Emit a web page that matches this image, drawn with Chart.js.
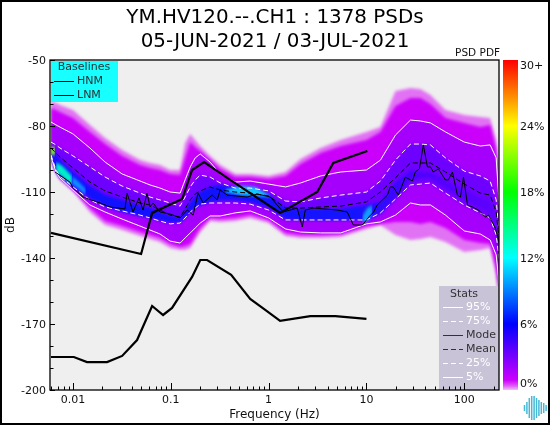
<!DOCTYPE html>
<html lang="en">
<head>
<meta charset="UTF-8">
<title>YM.HV120 PSD PDF</title>
<script src="https://cdn.jsdelivr.net/npm/chart.js"></script>
<style>
    body { margin: 0; background: #fff; }
    #wrap { position: relative; width: 550px; height: 425px; overflow: hidden; }
    #main { position: absolute; left: 0; top: 0; }
    #bar { position: absolute; left: 500px; top: 0; }
    #frame { position: absolute; left: 0; top: 0; width: 546px; height: 421px; border: 2px solid #000; }
</style>
</head>
<body>
<div id="wrap">
    <canvas id="main" width="550" height="425"></canvas>
    <canvas id="bar" width="50" height="425"></canvas>
    <div id="frame"></div>
</div>
<script>
// values
const titleLines = ['YM.HV120.--.CH1 : 1378 PSDs', '05-JUN-2021 / 03-JUL-2021'];

const xTickValues = [0.006, 0.007, 0.008, 0.009, 0.01, 0.02, 0.03, 0.04, 0.05, 0.06, 0.07, 0.08, 0.09, 0.1, 0.2, 0.3, 0.4, 0.5, 0.6, 0.7, 0.8, 0.9, 1, 2, 3, 4, 5, 6, 7, 8, 9, 10, 20, 30, 40, 50, 60, 70, 80, 90, 100, 200];
const xLabelValues = [0.01, 0.1, 1, 10, 100];
const xLabels = ['0.01', '0.1', '1', '10', '100'];
const yTickValues = [-50, -60, -70, -80, -90, -100, -110, -120, -130, -140, -150, -160, -170, -180, -190, -200];
const yLabelValues = [-50, -80, -110, -140, -170, -200];

const freq = [0.00596, 0.0067, 0.00736, 0.01, 0.0149, 0.0213, 0.0318, 0.0485, 0.0614, 0.0776, 0.0984, 0.1245, 0.14, 0.158, 0.1775, 0.2, 0.252, 0.32, 0.455, 0.648, 1, 1.49, 2.12, 3.4, 5.46, 10, 13.9, 19.8, 28.2, 35.6, 45.1, 64.3, 100, 146, 184, 212, 228];

const envTop = [-68.6, -69.5, -70.5, -72.7, -79.5, -85.5, -90.9, -95.5, -96.8, -97.7, -100, -100, -87.7, -83.6, -86.4, -89.1, -93.6, -97.7, -101.8, -101.8, -102.7, -100.9, -95, -90, -86.4, -82.7, -80.5, -64.1, -62.7, -63.2, -65.9, -72.7, -75, -75.9, -76.4, -86.4, -104.5];
const solidTop = [-71.8, -72.7, -73.6, -76.4, -82.7, -88.2, -93.6, -97.7, -99.1, -100, -101.8, -102.3, -94.5, -87.3, -89.5, -91.4, -95.5, -99.5, -103.2, -103.2, -104.1, -102.7, -97.3, -92.3, -89.1, -86.4, -82.7, -70.9, -67.3, -67.3, -70, -76.4, -78.6, -80.5, -79.5, -90, -109.1];
const p95 = [-78.2, -79.5, -80.5, -83.6, -90, -96.4, -101.8, -105, -106.8, -108.2, -110, -110.5, -104.5, -98.6, -94.5, -92.7, -96.4, -101.8, -105.5, -105, -106.4, -107.7, -105.9, -102.7, -100.9, -100, -95.5, -84.1, -77.3, -77.7, -78.6, -82.7, -87.3, -89.1, -88.6, -94.5, -115.9];
const p75 = [-87.3, -88.6, -90, -93.6, -98.6, -103.2, -107.3, -110.5, -112.3, -113.6, -115, -116.4, -112.3, -107.7, -104.5, -102.3, -103.2, -105.9, -108.2, -108.2, -109.5, -114.1, -114.5, -112.7, -111.4, -110, -105, -95.5, -88.2, -88.2, -88.6, -94.5, -100.5, -102.7, -105, -113.6, -129.5];
const meanDb = [-90, -92.3, -94.1, -99.1, -105.5, -109.5, -112.3, -115, -115.9, -118.2, -120.5, -121.4, -117.7, -113.6, -110.9, -109.5, -107.7, -109.1, -110, -110.5, -111.8, -117.3, -117.3, -116.8, -116.4, -114.5, -110, -103.6, -96.8, -96.8, -96.8, -100.9, -106.4, -110.5, -111.4, -119.1, -131.8];
const coreTop = [-89.1, -93.2, -95.5, -100.9, -107.3, -111.4, -113.6, -116.4, -117.3, -119.1, -120.9, -121.8, -118.6, -115, -112.3, -110, -107.7, -106.8, -107.7, -109.1, -111.4, -117.3, -117.7, -117.7, -117.7, -115.9, -114.5, -105.5, -100, -100.9, -100.9, -104.5, -109.1, -112.7, -113.6, -122.7, -136.4];
const coreBot = [-93.2, -100, -102.3, -107.3, -112.7, -116.4, -119.1, -120.9, -121.8, -122.7, -123.6, -123.6, -121.4, -119.1, -117.3, -115.9, -114.5, -113.6, -113.6, -114.5, -116.8, -122.3, -122.7, -122.7, -122.7, -122.7, -120, -112.7, -104.5, -103.6, -103.6, -108.2, -113.6, -117.3, -119.1, -128.2, -140];
const p25 = [-93.2, -100, -102.7, -107.7, -113.6, -116.8, -118.6, -120.5, -121.8, -123.2, -124.5, -124.1, -121.8, -119.1, -117.3, -115.5, -115, -115, -115, -115.5, -118.2, -122.7, -122.7, -122.7, -122.7, -122.7, -119.5, -113.2, -106.8, -106.4, -105.9, -110.5, -115.9, -119.5, -121.8, -129.5, -140.9];
const p5 = [-94.1, -100.9, -103.6, -109.1, -115.9, -119.1, -122.3, -125.5, -127.3, -129.1, -132.3, -133.2, -130.9, -128.6, -126.4, -124.1, -120.9, -120.9, -119.5, -118.6, -121.8, -126.8, -128.2, -128.6, -128.6, -124.5, -123.6, -120.5, -115, -115.9, -115.9, -120.5, -127.7, -129.1, -131.8, -138.6, -152.3];
const solidBot = [-93.6, -100, -103.2, -108.2, -117.3, -123.2, -125.5, -128.2, -129.5, -130.9, -133.6, -135, -134.5, -133.6, -130, -126.4, -121.8, -122.3, -121.8, -120.5, -122.7, -128.6, -129.5, -129.5, -129.1, -125.5, -124.5, -123.6, -123.6, -124.5, -123.6, -126.4, -131.8, -133.2, -133.6, -144.5, -156.8];
const envBot = [-94.5, -100.9, -104.5, -109.5, -119.1, -125, -127.3, -130, -131.4, -132.7, -135.5, -136.4, -136.4, -135.5, -131.8, -128.2, -123.2, -123.6, -123.2, -121.8, -124.1, -130, -130.9, -130.9, -130.5, -126.8, -125, -129.5, -131.8, -131.4, -130.5, -132.7, -137.3, -136.4, -135.5, -147.7, -158.2];

// hot spots of the density
const hotAFreq = [0.00596, 0.00655];
const hotATop = [-89.5, -89.5];
const hotABot = [-93.2, -93.2];
const hotBFreq = [0.0067, 0.0078, 0.0098];
const hotBTop = [-96.4, -98.2, -102.7];
const hotBBot = [-100.9, -103.2, -107.3];
const hotB2Freq = [0.0098, 0.0115, 0.0135];
const hotB2Top = [-102.7, -105.5, -108.6];
const hotB2Bot = [-106.4, -108.6, -111.4];
const hotCFreq = [0.36, 0.512, 0.73, 1.04];
const hotCTop = [-109.1, -107.3, -107.7, -111.8];
const hotCBot = [-110, -111.4, -111.8, -112.3];
const hotDFreq = [9.08, 10.2, 11.5];
const hotDTop = [-120.9, -117.3, -115.9];
const hotDBot = [-123.6, -123.6, -120];

const modeFreq = [0.00655, 0.00931, 0.01, 0.01265, 0.0189, 0.0239, 0.034, 0.0357, 0.0411, 0.0473, 0.052, 0.0571, 0.0614, 0.0659, 0.0776, 0.0984, 0.1245, 0.147, 0.169, 0.19, 0.214, 0.265, 0.298, 0.32, 0.377, 0.604, 0.764, 1.04, 1.41, 1.96, 2.21, 2.37, 2.86, 5.04, 6.37, 7.35, 9.08, 11, 11.7, 12.9, 16.4, 17.5, 18.8, 21.2, 25, 29.5, 31.6, 34.8, 38.2, 42, 45.1, 48.3, 54.4, 64.1, 68.9, 75.7, 85.1, 91.4, 98.2, 108, 121, 140, 165, 177, 208, 228];
const modeDb = [-100.9, -105.5, -108.2, -112.3, -115, -116.8, -117.7, -110.5, -119.1, -112.7, -118.2, -110.5, -116.8, -115, -119.1, -120, -121.8, -118.2, -120.5, -110.5, -115, -111.4, -113.6, -109.1, -111.4, -112.3, -110.9, -112.3, -119.1, -117.3, -125.9, -118.2, -117.3, -118.2, -119.1, -125, -125, -120.5, -119.5, -115.9, -111.4, -107.7, -107.7, -111.4, -103.2, -105, -100.9, -99.5, -88.6, -98.6, -98.6, -100.9, -99.5, -104.5, -104.5, -100.9, -111.4, -112.3, -103.2, -115.9, -116.8, -118.2, -121.4, -120.5, -126.4, -133.2];

const hnmFreq = [0.00596, 0.0497, 0.0644, 0.1306, 0.165, 0.219, 0.377, 1.31, 3.14, 4.58, 10.2];
const hnmDb = [-128.6, -138.2, -119.5, -113.2, -100, -96.4, -103.6, -119.5, -110, -96.8, -91.4];
const lnmFreq = [0.00596, 0.0102, 0.0139, 0.0223, 0.0318, 0.0452, 0.0644, 0.0834, 0.103, 0.165, 0.2, 0.235, 0.414, 0.648, 0.923, 1.31, 2.67, 4.81, 10];
const lnmDb = [-185, -185, -187.3, -187.3, -184.5, -177.3, -161.8, -165.9, -162.7, -148.6, -140.9, -140.9, -147.7, -158.6, -163.6, -168.6, -166.4, -166.4, -167.7];

const barTickValues = [0.64, 6, 12, 18, 24, 29.55];
const barTickLabels = ['0%', '6%', '12%', '18%', '24%', '30+'];

const statsRows = [
    ['95%', '#fff', []],
    ['75%', '#fff', [5, 3]],
    ['Mode', '#333', []],
    ['Mean', '#333', [5, 3]],
    ['25%', '#fff', [5, 3]],
    ['5%', '#fff', []]
];
const logoHeights = [3, 6, 10, 12, 12, 10, 8, 6, 5, 3];

const FONT = '"DejaVu Sans", sans-serif';

function pts(xs, ys) {
    return xs.map((x, i) => ({ x: x, y: ys[i] }));
}

const datasets = [];
let drawOrder = 1000;

// a filled band between two curves, outer bands go first
function band(xs, top, bot, color) {
    const i = datasets.length;
    datasets.push({ isBand: true, data: pts(xs, top), fill: { target: i + 1 }, backgroundColor: color, showLine: false, pointRadius: 0, order: drawOrder-- });
    datasets.push({ isBand: true, data: pts(xs, bot), fill: false, showLine: false, pointRadius: 0, order: drawOrder-- });
}

function line(xs, ys, color, width, dash) {
    datasets.push({ data: pts(xs, ys), borderColor: color, borderWidth: width, borderDash: dash, pointRadius: 0, fill: false, tension: 0, order: drawOrder-- });
}

const coreGrad = document.getElementById('main').getContext('2d').createLinearGradient(50, 0, 499, 0);
coreGrad.addColorStop(0, '#1010ff');
coreGrad.addColorStop(0.68, '#1414ff');
coreGrad.addColorStop(0.8, '#4a00ff');
coreGrad.addColorStop(1, '#6000ff');

band(freq, envTop, envBot, '#e272f4');
band(freq, solidTop, solidBot, '#cb00fb');
band(freq, p95, p5, '#a400fb');
band(freq, p75, p25, '#6e00ff');
band(freq, coreTop, coreBot, coreGrad);
band(hotAFreq, hotATop, hotABot, '#90ff20');
band(hotBFreq, hotBTop, hotBBot, '#00f0c8');
band(hotB2Freq, hotB2Top, hotB2Bot, '#1090ff');
band(hotCFreq, hotCTop, hotCBot, '#10c8ff');
band(hotDFreq, hotDTop, hotDBot, '#10a0ff');

line(freq, p95, '#fff', 1, []);
line(freq, p75, '#fff', 1, [5, 3]);
line(freq, p25, '#fff', 1, [5, 3]);
line(freq, p5, '#fff', 1, []);
line(freq, meanDb, '#000', 1, [5, 3]);
line(modeFreq, modeDb, '#000', 1, []);
line(hnmFreq, hnmDb, '#000', 2.2, []);
line(lnmFreq, lnmDb, '#000', 2.2, []);

const panelPlugin = {
    id: 'panel',
    beforeDraw(chart) {
        const a = chart.chartArea;
        chart.ctx.fillStyle = '#efefef';
        chart.ctx.fillRect(a.left, a.top, a.right - a.left, a.bottom - a.top);
    },
    // filler runs first in each of these hooks, so the blur only hits the bands
    beforeDatasetsDraw(chart) {
        chart.ctx.filter = 'blur(1.8px)';
    },
    beforeDatasetDraw(chart, args) {
        if (!chart.data.datasets[args.index].isBand) chart.ctx.filter = 'none';
    },
    afterDraw(chart) {
        const ctx = chart.ctx;
        const a = chart.chartArea;
        ctx.save();
        ctx.filter = 'none';
        ctx.textBaseline = 'middle';

        // baselines box
        ctx.fillStyle = '#18ffff';
        ctx.fillRect(a.left + 1, a.top + 1, 67, 41);
        ctx.fillStyle = '#263238';
        ctx.font = '11px ' + FONT;
        ctx.textAlign = 'center';
        ctx.fillText('Baselines', 84, 67);
        ctx.textAlign = 'left';
        ['HNM', 'LNM'].forEach((name, i) => {
            const y = 81 + i * 14;
            ctx.strokeStyle = '#000';
            ctx.lineWidth = 1;
            ctx.beginPath();
            ctx.moveTo(54, y + 0.5);
            ctx.lineTo(74, y + 0.5);
            ctx.stroke();
            ctx.fillStyle = '#263238';
            ctx.fillText(name, 77, y);
        });

        // stats box
        ctx.fillStyle = '#c9c3d8';
        ctx.fillRect(439, 286, 60, 104);
        ctx.fillStyle = '#333';
        ctx.textAlign = 'center';
        ctx.fillText('Stats', 464, 294);
        ctx.textAlign = 'left';
        statsRows.forEach((row, i) => {
            const y = 307 + i * 14;
            ctx.strokeStyle = row[1];
            ctx.lineWidth = 1;
            ctx.setLineDash(row[2]);
            ctx.beginPath();
            ctx.moveTo(443, y + 0.5);
            ctx.lineTo(463, y + 0.5);
            ctx.stroke();
            ctx.setLineDash([]);
            ctx.fillStyle = row[1];
            ctx.fillText(row[0], 466, y);
        });

        // frame and inward ticks
        ctx.strokeStyle = '#000';
        ctx.lineWidth = 1.3;
        ctx.strokeRect(a.left, a.top, a.right - a.left, a.bottom - a.top);
        ctx.lineWidth = 1;
        const xs = chart.scales.x;
        xs.ticks.forEach(t => {
            const px = Math.round(xs.getPixelForValue(t.value)) + 0.5;
            ctx.beginPath();
            ctx.moveTo(px, a.bottom);
            ctx.lineTo(px, a.bottom - (t.major ? 7 : 3.5));
            ctx.stroke();
        });
        const ys = chart.scales.y;
        ys.ticks.forEach(t => {
            const py = Math.round(ys.getPixelForValue(t.value)) + 0.5;
            ctx.beginPath();
            ctx.moveTo(a.left, py);
            ctx.lineTo(a.left + (t.major ? 5 : 3.5), py);
            ctx.stroke();
        });

        ctx.fillStyle = '#111';
        ctx.font = '10.5px ' + FONT;
        ctx.textAlign = 'right';
        ctx.fillText('PSD PDF', 500, 53);

        // little waveform logo
        ctx.strokeStyle = '#45b8d6';
        ctx.lineWidth = 1.5;
        logoHeights.forEach((h, i) => {
            const px = 524.5 + i * 2.4;
            ctx.beginPath();
            ctx.moveTo(px, 408 - h);
            ctx.lineTo(px, 408 + h);
            ctx.stroke();
        });
        ctx.restore();
    }
};

new Chart(document.getElementById('main'), {
    type: 'line',
    data: { datasets: datasets },
    plugins: [panelPlugin],
    options: {
        responsive: false,
        animation: false,
        layout: { padding: 0 },
        plugins: {
            legend: { display: false },
            tooltip: { enabled: false },
            title: {
                display: true,
                text: titleLines,
                color: '#000',
                font: { family: FONT, size: 19.9, weight: 'normal', lineHeight: '24px' },
                padding: { top: 6, bottom: 6 }
            }
        },
        scales: {
            x: {
                type: 'logarithmic',
                min: 0.00582,
                max: 226.6,
                grid: { display: false, drawTicks: false },
                border: { display: false },
                afterBuildTicks(axis) {
                    axis.ticks = xTickValues.map(v => ({ value: v, major: xLabelValues.includes(v) }));
                },
                afterFit(axis) { axis.height = 35; },
                ticks: {
                    autoSkip: false,
                    maxRotation: 0,
                    padding: 4,
                    color: '#111',
                    font: { family: FONT, size: 11 },
                    callback(v) {
                        const i = xLabelValues.indexOf(v);
                        return i < 0 ? '' : xLabels[i];
                    }
                },
                title: { display: true, text: 'Frequency (Hz)', color: '#111', font: { family: FONT, size: 12 }, padding: { top: 3, bottom: 3 } }
            },
            y: {
                type: 'linear',
                min: -200,
                max: -50,
                grid: { display: false, drawTicks: false },
                border: { display: false },
                afterBuildTicks(axis) {
                    axis.ticks = yTickValues.map(v => ({ value: v, major: yLabelValues.includes(v) }));
                },
                afterFit(axis) { axis.width = 50; },
                ticks: {
                    autoSkip: false,
                    padding: 4,
                    labelOffset: 1,
                    color: '#111',
                    font: { family: FONT, size: 11 },
                    callback(v) { return yLabelValues.includes(v) ? String(v) : ''; }
                },
                title: { display: true, text: 'dB', color: '#111', font: { family: FONT, size: 12 }, padding: { top: 4, bottom: 0 } }
            },
            // empty axis that keeps room for the colour scale, so the title stays centred on the page
            spacer: {
                type: 'linear',
                position: 'right',
                grid: { display: false, drawTicks: false },
                border: { display: false },
                ticks: { display: false },
                afterFit(axis) { axis.width = 51; }
            }
        }
    }
});

// colour scale on its own small chart
const barCtx = document.getElementById('bar').getContext('2d');
const barGrad = barCtx.createLinearGradient(0, 390, 0, 60);
barGrad.addColorStop(0, '#f0c0f8');
barGrad.addColorStop(0.012, '#e060f6');
barGrad.addColorStop(0.03, '#cc00ff');
barGrad.addColorStop(0.2, '#0000ff');
barGrad.addColorStop(0.4, '#00ffff');
barGrad.addColorStop(0.6, '#00ff00');
barGrad.addColorStop(0.8, '#ffff00');
barGrad.addColorStop(1, '#ff0000');

new Chart(barCtx, {
    type: 'bar',
    data: {
        labels: ['PDF'],
        datasets: [{ data: [[0, 30]], backgroundColor: barGrad, borderWidth: 0, barPercentage: 1, categoryPercentage: 1 }]
    },
    options: {
        responsive: false,
        animation: false,
        layout: { padding: { left: 3, right: 0, top: 60, bottom: 35 } },
        plugins: { legend: { display: false }, tooltip: { enabled: false } },
        scales: {
            x: { display: false },
            y: {
                position: 'right',
                min: 0,
                max: 30,
                grid: { display: false, drawTicks: false },
                border: { display: false },
                afterBuildTicks(axis) {
                    axis.ticks = barTickValues.map(v => ({ value: v }));
                },
                afterFit(axis) { axis.width = 32; },
                ticks: {
                    autoSkip: false,
                    padding: 2,
                    labelOffset: 1,
                    color: '#111',
                    font: { family: FONT, size: 11 },
                    callback(v) { return barTickLabels[barTickValues.indexOf(v)]; }
                }
            }
        }
    }
});
</script>
</body>
</html>
